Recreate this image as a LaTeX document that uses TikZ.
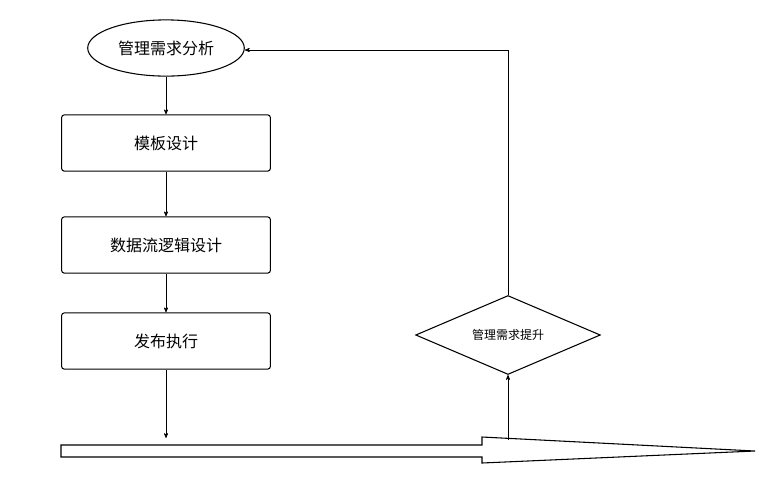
\documentclass[tikz,border=0pt]{standalone}
\usepackage{fontspec}
\newfontfamily\cjk{Noto Sans CJK SC}
\usetikzlibrary{shapes.geometric,arrows}

\begin{document}
\begin{tikzpicture}[>=stealth', x=0.75pt, y=-0.75pt, font=\cjk\fontsize{12}{14}\selectfont]
 \tikzstyle{box}=[draw, thick, rounded corners=2pt, minimum width=156bp, minimum height=42bp]
 \useasboundingbox (0,0) rectangle (771,480);
 \node (analyse) at (166,48) [draw, thick, ellipse, minimum width=117bp, minimum height=42bp] {管理需求分析};
 \node (templ) at (166,143) [box] {模板设计};
 \node (flow) at (166,245) [box] {数据流逻辑设计};
 \node (publish) at (166,341) [box] {发布执行};
 \node (improve) at (508,335) [draw, thick, diamond, aspect=2.33, minimum width=138bp, minimum height=59bp, inner sep=0pt, font=\cjk\fontsize{9}{11}\selectfont] {管理需求提升};
 \coordinate (down) at (166,438);
 \coordinate (up) at (508,440);
 \coordinate (corner) at (508,50);

 % big timeline arrow
 \draw [thick] (61,445) -- (482,445) -- (482,437) -- (755,451) -- (482,463) -- (482,457) -- (61,457) -- cycle;

 \draw [->] (analyse) -- (templ);
 \draw [->] (templ) -- (flow);
 \draw [->] (flow) -- (publish);
 \draw [->] (publish) -- (down);
 \draw [->] (up) -- (improve);
 \draw [->] (improve) -- (corner) -- (analyse.east |- corner);
\end{tikzpicture}
\end{document}
